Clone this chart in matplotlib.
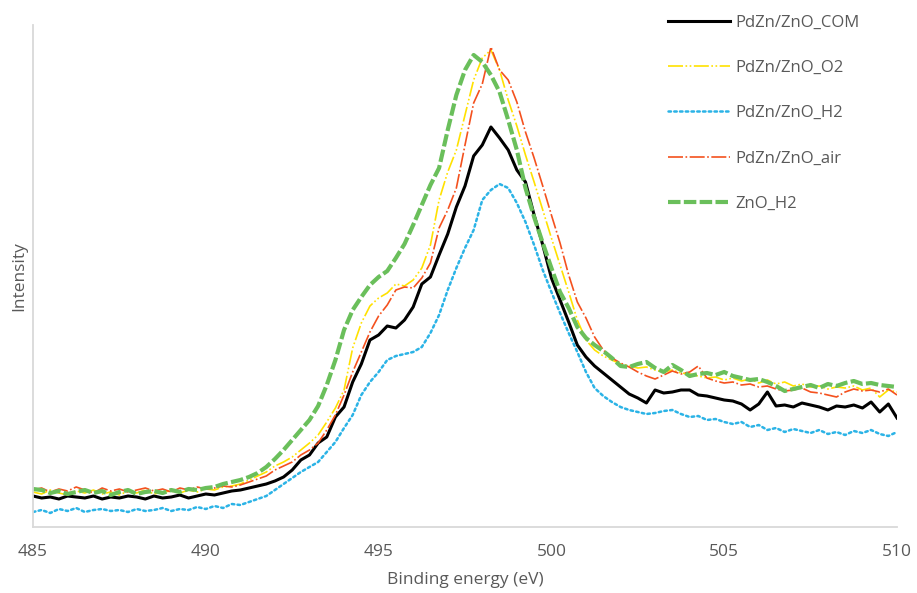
import numpy as np
import matplotlib
matplotlib.use("Agg")
import matplotlib.pyplot as plt

plt.rcParams['font.family'] = ['Open Sans', 'DejaVu Sans']

# binding energy grid (eV), 0.25 eV steps
energy = np.arange(485.0, 510.001, 0.25)

# intensities (arbitrary units)
com = [31, 29, 30, 28, 31, 30, 29, 31, 28, 30, 29, 31, 30, 28, 31, 29, 30, 32, 29, 31, 33,
       32, 34, 36, 37, 39, 41, 43, 46, 50, 57, 67, 72, 84, 90, 110, 120, 145, 163, 187, 192,
       201, 199, 207, 220, 243, 250, 272, 293, 320, 341, 371, 382, 400, 389, 377, 357,
       345, 312, 282, 249, 227, 205, 182, 170, 161, 154, 147, 140, 133, 129, 124, 137,
       134, 135, 137, 137, 132, 131, 129, 127, 126, 123, 117, 123, 135, 121, 122, 120,
       124, 122, 120, 117, 121, 120, 122, 119, 125, 115, 123, 109]

o2 = [35, 33, 37, 34, 32, 36, 34, 37, 33, 35, 32, 36, 34, 37, 33, 35, 36, 34, 37, 35, 38,
      37, 40, 41, 43, 47, 51, 55, 61, 65, 70, 77, 84, 92, 105, 119, 137, 179, 204, 221, 229,
      234, 243, 241, 247, 259, 282, 327, 355, 377, 412, 447, 469, 477, 457, 427, 401,
      372, 345, 317, 289, 262, 235, 207, 187, 177, 171, 167, 163, 161, 159, 160, 157,
      155, 157, 154, 153, 151, 149, 150, 147, 149, 146, 148, 144, 147, 143, 145, 141,
      143, 140, 141, 138, 140, 139, 141, 137, 139, 130, 137, 135]

h2 = [15, 17, 14, 18, 16, 19, 15, 17, 18, 16, 17, 15, 18, 16, 17, 19, 16, 18, 17, 20, 18,
      21, 19, 23, 22, 25, 28, 31, 37, 43, 49, 55, 60, 65, 75, 85, 99, 112, 132, 145, 155,
      167, 171, 173, 175, 180, 194, 212, 237, 259, 279, 297, 327, 337, 343, 339, 324,
      305, 282, 257, 235, 214, 194, 175, 155, 139, 131, 125, 120, 117, 115, 113, 114,
      116, 117, 113, 110, 111, 107, 108, 105, 103, 105, 100, 102, 97, 99, 95, 98,
      96, 94, 97, 93, 95, 92, 96, 94, 97, 93, 91, 95]

air = [37, 39, 35, 38, 36, 40, 37, 34, 39, 36, 38, 35, 37, 39, 36, 38, 35, 39, 37, 40, 38,
       39, 41, 40, 42, 45, 48, 51, 57, 61, 65, 72, 77, 84, 97, 112, 132, 155, 175, 195, 211,
       222, 237, 240, 239, 249, 264, 299, 317, 339, 382, 424, 443, 480, 457, 447, 425,
       395, 369, 341, 312, 284, 252, 225, 209, 190, 177, 169, 164, 160, 155, 151, 148,
       152, 156, 153, 155, 161, 149, 146, 144, 145, 142, 143, 140, 141, 138, 136, 137,
       139, 135, 134, 132, 130, 135, 138, 136, 137, 135, 138, 132]

zno_h2 = [38, 37, 34, 36, 33, 35, 37, 34, 36, 32, 35, 37, 33, 35, 36, 34, 37, 35, 38, 37, 39,
          40, 43, 45, 47, 50, 54, 60, 68, 77, 87, 97, 107, 121, 142, 167, 197, 217, 230, 242, 250,
          256, 269, 283, 302, 322, 342, 359, 397, 432, 457, 472, 465, 452, 435, 407, 377,
          339, 310, 284, 259, 235, 219, 200, 189, 182, 176, 169, 161, 160, 163, 165, 159,
          155, 162, 157, 151, 153, 154, 152, 155, 151, 149, 147, 148, 145, 141, 136, 138,
          140, 142, 139, 143, 141, 144, 146, 143, 144, 142, 141, 140]

labels = ['PdZn/ZnO_COM', 'PdZn/ZnO_O2', 'PdZn/ZnO_H2', 'PdZn/ZnO_air', 'ZnO_H2']

fig = plt.figure(figsize=(9.17, 5.93), dpi=100)
ax = fig.add_axes([33 / 917, 66 / 593, 864 / 917, 502 / 593])

ax.plot(energy, com, color='black', lw=2.2, label=labels[0])
ax.plot(energy, o2, color='#FFE100', lw=1.2, dashes=(9, 1.5, 1, 1.5, 1, 1.5), label=labels[1])
ax.plot(energy, h2, color='#2BB3E6', lw=1.8, linestyle=(0, (1, 1.3)),
        dash_capstyle='round', label=labels[2])
ax.plot(energy, air, color='#F4511E', lw=1.2, dashes=(9, 1.5, 1, 1.5), label=labels[3])
ax.plot(energy, zno_h2, color='#6ABF5B', lw=3.0, dashes=(3, 0.8), label=labels[4])

ax.set_xlim(485, 510)
ax.set_ylim(0, 502)
ax.set_xticks([485, 490, 495, 500, 505, 510])
ax.set_yticks([])
ax.tick_params(axis='x', length=0, pad=12, labelsize=12.5, labelcolor='#595959')

for side in ['top', 'right']:
    ax.spines[side].set_visible(False)
for side in ['left', 'bottom']:
    ax.spines[side].set_color('#d9d9d9')
    ax.spines[side].set_linewidth(1.3)

ax.set_xlabel('Binding energy (eV)', fontsize=12.5, color='#595959', labelpad=9)
ax.set_ylabel('Intensity', fontsize=12.5, color='#595959', labelpad=4)

leg = ax.legend(loc='upper left', bbox_to_anchor=(668 / 917, 1 - 15 / 593),
                bbox_transform=fig.transFigure, frameon=False, fontsize=12,
                handlelength=3.7, handletextpad=0.35, labelspacing=1.75,
                borderpad=0, borderaxespad=0)
for t in leg.get_texts():
    t.set_color('#595959')

fig.savefig('out.png', dpi=100)
